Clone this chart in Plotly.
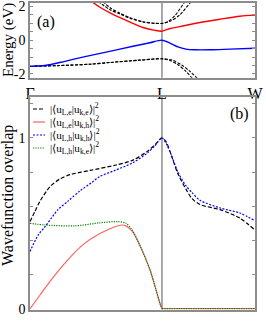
import plotly.graph_objects as go

# ---------------- data ----------------
# k-path coordinate: Gamma = 0, L = 1, W = 1.705
k_labels = ["Γ", "L", "W"]
k_ticks = [0.0, 1.0, 1.705]

# Panel (a): band structure (eV)
k_blue = [0.0, 0.114, 0.265, 0.417, 0.568, 0.780, 0.909, 1.0, 1.061, 1.121, 1.182, 1.250, 1.364, 1.515, 1.705]
e_blue = [-1.54, -1.50, -1.25, -0.97, -0.72, -0.36, -0.15, 0.0, -0.17, -0.40, -0.53, -0.57, -0.57, -0.53, -0.48]

k_red = [0.455, 0.530, 0.606, 0.682, 0.758, 0.856, 0.947, 1.0, 1.061, 1.136, 1.212, 1.439, 1.591, 1.705]
e_red = [2.35, 1.95, 1.62, 1.33, 1.07, 0.75, 0.58, 0.53, 0.69, 0.80, 0.93, 1.24, 1.42, 1.48]

k_cb1 = [0.515, 0.606, 0.682, 0.758, 0.856, 0.947, 1.0, 1.045, 1.098, 1.167, 1.182]
e_cb1 = [2.30, 1.80, 1.55, 1.30, 1.08, 1.00, 0.99, 1.10, 1.45, 2.20, 2.35]
k_cb2 = [0.553, 0.606, 0.682, 0.758, 0.856, 0.947, 1.0, 1.061, 1.136, 1.212, 1.227]
e_cb2 = [2.30, 1.92, 1.60, 1.33, 1.09, 1.00, 0.99, 1.12, 1.50, 2.20, 2.35]

k_vb1 = [0.0, 0.227, 0.455, 0.606, 0.833, 1.0, 1.061, 1.121, 1.182, 1.235]
e_vb1 = [-1.54, -1.50, -1.42, -1.32, -1.18, -1.10, -1.20, -1.45, -1.85, -2.30]
k_vb2 = [0.0, 0.227, 0.455, 0.606, 0.833, 1.0, 1.076, 1.152, 1.212, 1.273]
e_vb2 = [-1.54, -1.50, -1.42, -1.32, -1.18, -1.10, -1.18, -1.48, -1.85, -2.30]

# Panel (b): wavefunction overlaps
k_ee = [0.0, 0.038, 0.076, 0.152, 0.227, 0.303, 0.455, 0.644, 0.780, 0.886, 0.947, 1.0,
        1.030, 1.061, 1.121, 1.182, 1.227, 1.288, 1.439, 1.591, 1.705]
ov_ee = [0.51, 0.57, 0.63, 0.715, 0.76, 0.785, 0.81, 0.84, 0.87, 0.92, 0.96, 1.0,
         0.98, 0.92, 0.79, 0.70, 0.645, 0.61, 0.58, 0.53, 0.46]

k_hh = [0.0, 0.061, 0.114, 0.212, 0.288, 0.379, 0.470, 0.530, 0.644, 0.780, 0.886, 0.947, 1.0,
        1.030, 1.061, 1.121, 1.182, 1.227, 1.288, 1.439, 1.591, 1.705]
ov_hh = [0.335, 0.43, 0.48, 0.58, 0.63, 0.69, 0.74, 0.775, 0.81, 0.855, 0.91, 0.955, 1.0,
         0.97, 0.92, 0.80, 0.72, 0.68, 0.635, 0.59, 0.56, 0.515]

k_eh = [0.0, 0.076, 0.152, 0.280, 0.402, 0.530, 0.644, 0.697, 0.727, 0.773, 0.833, 0.909, 0.955, 0.985, 1.0, None, 1.0, 1.705]
ov_eh = [0.0, 0.08, 0.16, 0.28, 0.375, 0.44, 0.48, 0.49, 0.485, 0.455, 0.37, 0.228, 0.11, 0.03, 0.0, None, 0.0, 0.0]

k_he = [0.0, 0.114, 0.341, 0.530, 0.667, 0.727, 0.773, 0.833, 0.909, 0.955, 0.985, 1.0, None, 1.0, 1.705]
ov_he = [0.50, 0.49, 0.485, 0.503, 0.51, 0.50, 0.462, 0.37, 0.228, 0.11, 0.03, 0.0, None, 0.0, 0.0]

legend_names = [
    "|⟨u<sub>L,e</sub>|u<sub>k,e</sub>⟩|<sup>2</sup>",
    "|⟨u<sub>L,e</sub>|u<sub>k,h</sub>⟩|<sup>2</sup>",
    "|⟨u<sub>L,h</sub>|u<sub>k,h</sub>⟩|<sup>2</sup>",
    "|⟨u<sub>L,h</sub>|u<sub>k,e</sub>⟩|<sup>2</sup>",
]

# ---------------- figure ----------------
W, H = 266, 325
FONT = "Liberation Serif, Times New Roman, serif"
GRAY = "#8c8c8c"

fig = go.Figure()

def band(k, e, color, dash="solid", width=1.3):
    fig.add_trace(go.Scatter(x=k, y=e, mode="lines", xaxis="x", yaxis="y",
                             line=dict(color=color, dash=dash, width=width, shape="spline", smoothing=0.8),
                             showlegend=False, hoverinfo="skip"))

BAND_DASH = "3px,1.5px"
band(k_cb1, e_cb1, "black", BAND_DASH, 1.1)
band(k_cb2, e_cb2, "black", BAND_DASH, 1.1)
band(k_vb1, e_vb1, "black", BAND_DASH, 1.1)
band(k_vb2, e_vb2, "black", BAND_DASH, 1.1)
band(k_red, e_red, "red", "solid", 1.4)
band(k_blue, e_blue, "blue", "solid", 1.4)

STYLES = [("black", "4px,2px"), ("#ff6060", "solid"), ("blue", "2px,1.5px"), ("green", "1.2px,1.2px")]

def ov(k, v, idx, width=1.2):
    color, dash = STYLES[idx]
    fig.add_trace(go.Scatter(x=k, y=v, mode="lines", xaxis="x2", yaxis="y2", name=legend_names[idx],
                             line=dict(color=color, dash=dash, width=width, shape="spline", smoothing=0.8),
                             connectgaps=False, hoverinfo="skip", showlegend=False))

ov(k_ee, ov_ee, 0)
ov(k_eh, ov_eh, 1)
ov(k_hh, ov_hh, 2)
ov(k_he, ov_he, 3)

xdom = [30 / W, 255 / W]
ya_dom = [1 - 77.7 / H, 1 - 3 / H]
yb_dom = [1 - 309.5 / H, 1 - 97 / H]

ya_ticks = [-2, 0, 2]
ya_text = ["-2", "0", "2"]
yb_ticks = [0, 1]
yb_text = ["0", "1"]

axis_common = dict(showline=True, linecolor=GRAY, linewidth=1.5, mirror="ticks",
                   showgrid=False, zeroline=False, tickcolor=GRAY, automargin=False,
                   ticklabeloverflow="allow",
                   tickfont=dict(family=FONT, size=14, color="black"))

# manual legend (sample line + text) in panel (b)
legend_shapes = []
legend_annots = []
for i, name in enumerate(legend_names):
    py = 109 + 13 * i
    color, dash = STYLES[i]
    legend_shapes.append(dict(type="line", xref="paper", yref="paper", x0=33 / W, x1=45 / W,
                              y0=1 - py / H, y1=1 - py / H, line=dict(color=color, dash=dash, width=1.2)))
    legend_annots.append(dict(text=name, x=48 / W, y=1 - py / H, xref="paper", yref="paper",
                              xanchor="left", yanchor="middle", showarrow=False,
                              font=dict(family=FONT, size=11, color="black")))

def label(text, px, py, size, angle=0):
    return dict(text=text, x=px / W, y=1 - py / H, xref="paper", yref="paper", showarrow=False,
                xanchor="center", yanchor="middle", textangle=angle,
                font=dict(family=FONT, size=size, color="black"))

fig.update_layout(
    width=W, height=H, margin=dict(l=0, r=0, t=0, b=0, autoexpand=False),
    plot_bgcolor="white", paper_bgcolor="white",
    font=dict(family=FONT, color="black"),
    showlegend=False,
    xaxis=dict(domain=xdom, range=[0, 1.705], anchor="y", tickvals=k_ticks, ticktext=k_labels,
               ticks="", **{**axis_common, "tickfont": dict(family=FONT, size=16, color="black")}),
    yaxis=dict(domain=ya_dom, range=[-2.22, 2.2], anchor="x", side="left", tickvals=ya_ticks,
               ticktext=ya_text, ticks="inside", ticklen=3,
               minor=dict(dtick=0.5, tick0=0, ticks="inside", ticklen=3, tickcolor=GRAY, showgrid=False),
               **axis_common),
    xaxis2=dict(domain=xdom, range=[0, 1.705], anchor="y2", matches="x", showticklabels=False,
                ticks="", **axis_common),
    yaxis2=dict(domain=yb_dom, range=[-0.005, 1.24], anchor="x2", side="left", tickvals=yb_ticks,
                ticktext=yb_text, ticks="inside", ticklen=3,
                minor=dict(dtick=0.2, tick0=0, ticks="inside", ticklen=3, tickcolor=GRAY, showgrid=False),
                **axis_common),
    shapes=[
        dict(type="line", xref="x", yref="y domain", x0=1, x1=1, y0=0, y1=1,
             line=dict(color=GRAY, width=1.5), layer="below"),
        dict(type="line", xref="x2", yref="y2 domain", x0=1, x1=1, y0=0, y1=1,
             line=dict(color=GRAY, width=1.5), layer="below"),
    ] + legend_shapes,
    annotations=[
        label("(a)", 46, 22, 16),
        label("(b)", 239, 114, 16),
        label("Energy (eV)", 8, 40, 15, -90),
        label("Wavefunction overlap", 8, 196, 16, -90),
    ] + legend_annots,
)

fig.write_html("out.html", config={"displayModeBar": False},
               post_script="document.body.style.margin='0';document.body.style.overflow='hidden';")
